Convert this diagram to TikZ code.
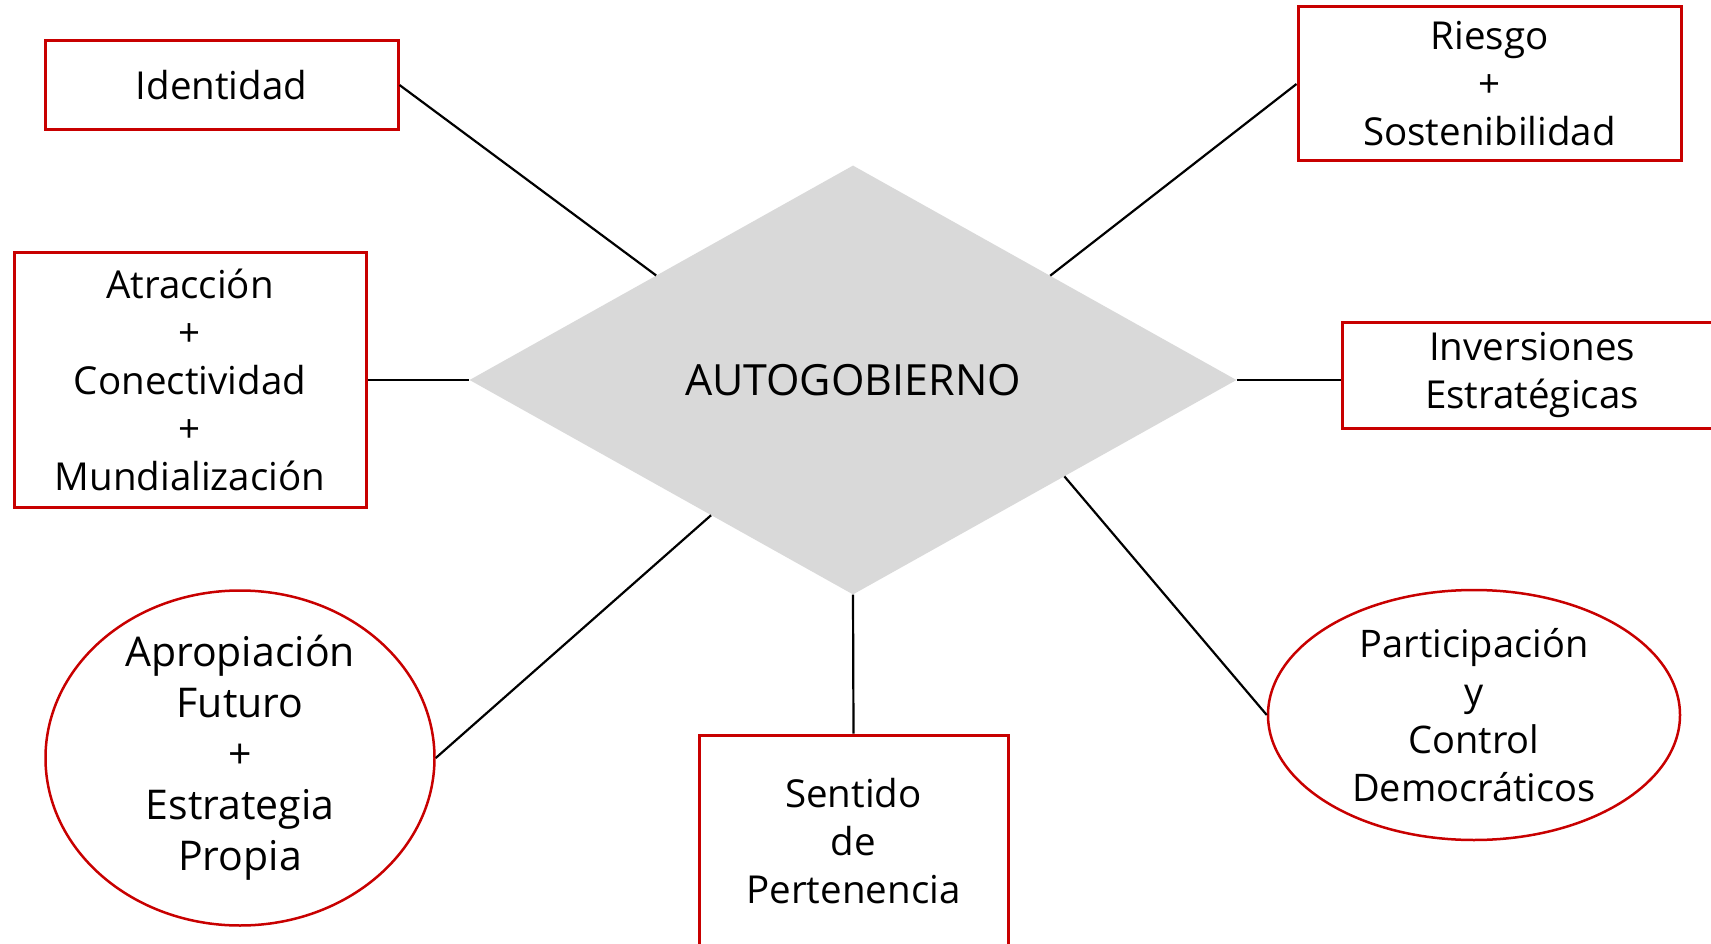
\documentclass[tikz,border=0pt]{standalone}
\usepackage{fontspec}
\setmainfont{Open Sans}
\usetikzlibrary{shapes.geometric,calc}
\definecolor{boxred}{RGB}{200,0,0}
\definecolor{diagray}{RGB}{217,217,217}
\tikzset{
  redbox/.style={draw=boxred, line width=3pt, rectangle, align=center, inner sep=0pt,
    font=\fontsize{38.5}{48}\selectfont},
  redoval/.style={draw=boxred, line width=2.5pt, ellipse, align=center, inner sep=-25pt,
    font=\fontsize{41}{51}\selectfont},
  link/.style={line width=2.2pt, black}
}
\begin{document}
\begin{tikzpicture}[x=1pt,y=-1pt]
  \useasboundingbox (0,0) rectangle (1711,944);
  \clip (0,0) rectangle (1711,944);
  \node[diamond, fill=diagray, inner sep=0pt, minimum width=767pt, minimum height=429pt,
        font=\fontsize{43}{50}\selectfont] (dia) at (853,380) {AUTOGOBIERNO};
  \node[redbox, minimum width=353pt, minimum height=89pt] (ident) at (221.5,85) {Identidad};
  \node[redbox, minimum width=383pt, minimum height=154pt] (riesgo) at (1489.5,84) {Riesgo\\+\\Sostenibilidad};
  \node[redbox, minimum width=352pt, minimum height=254pt] (atrac) at (190,380) {Atracción\\+\\Conectividad\\+\\Mundialización};
  \node[redbox, minimum width=380pt, minimum height=106pt] (inver) at (1532,375) {Inversiones\\Estratégicas};
  \node[redbox, minimum width=309pt, minimum height=212pt] (sentido) at (853.5,841) {Sentido\\de\\Pertenencia};
  \node[redoval, minimum width=389pt, minimum height=335pt] (aprop) at (240,758) {Apropiación\\Futuro\\+\\Estrategia\\Propia};
  \node[redoval, minimum width=412pt, minimum height=250pt,
        font=\fontsize{38}{48}\selectfont] (partic) at (1474,715) {Participación\\y\\Control\\Democráticos};
  % connectors
  \draw[link] (ident.east) -- ($(dia.west)!0.487!(dia.north)$);
  \draw[link] (riesgo.west) -- ($(dia.north)!0.514!(dia.east)$);
  \draw[link] (atrac.east |- dia.west) -- (dia.west);
  \draw[link] (dia.east) -- (dia.east -| inver.west);
  \draw[link] (aprop.east) -- ($(dia.west)!0.63!(dia.south)$);
  \draw[link] (partic.west) -- ($(dia.east)!0.449!(dia.south)$);
  \draw[link] (dia.south) -- (sentido.north);
\end{tikzpicture}
\end{document}
